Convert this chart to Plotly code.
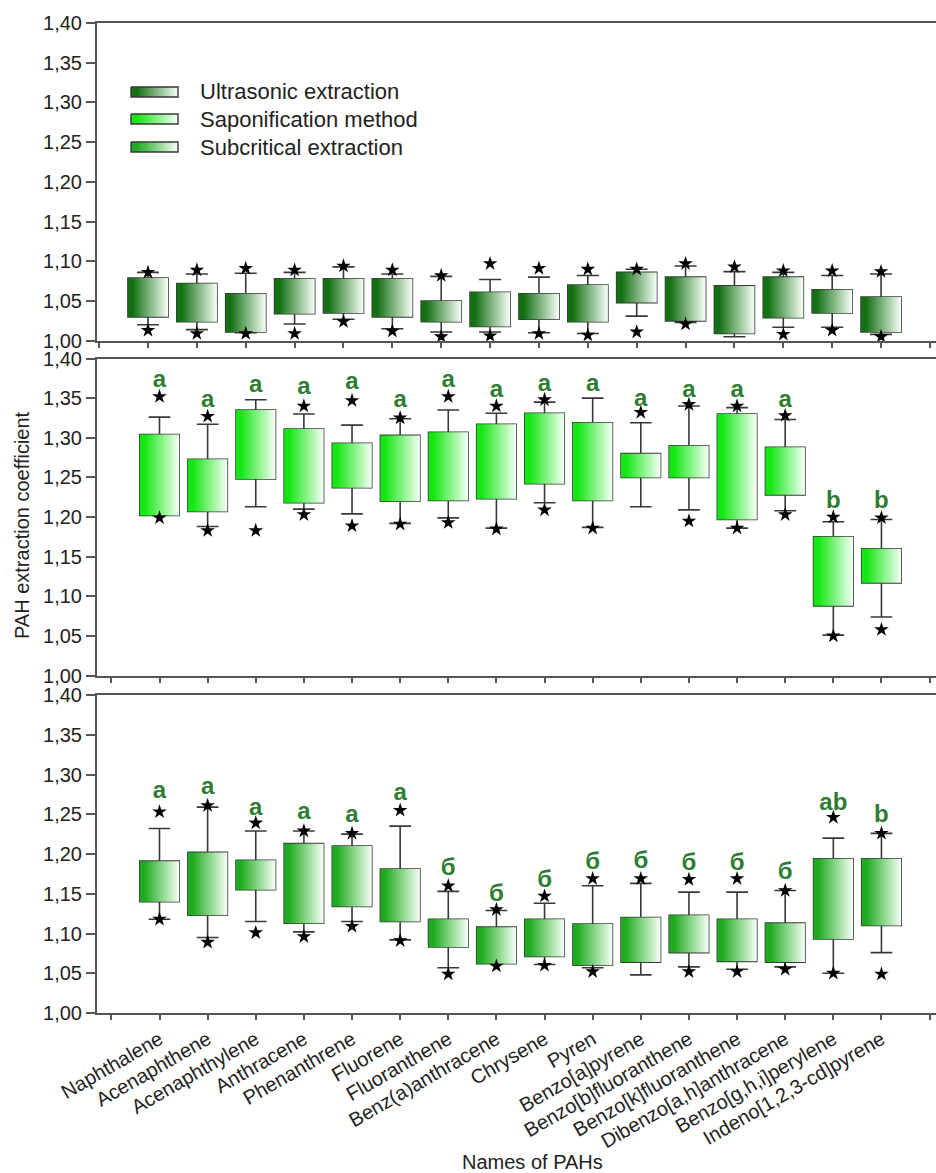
import plotly.graph_objects as go

# ---------------------------------------------------------------- data
names = ["Naphthalene", "Acenaphthene", "Acenaphthylene", "Anthracene",
         "Phenanthrene", "Fluorene", "Fluoranthene", "Benz(a)anthracene",
         "Chrysene", "Pyren", "Benzo[a]pyrene", "Benzo[b]fluoranthene",
         "Benzo[k]fluoranthene", "Dibenzo[a,h]anthracene",
         "Benzo[g,h,i]perylene", "Indeno[1,2,3-cd]pyrene"]

# Ultrasonic extraction
us_q1 = [1.030, 1.024, 1.011, 1.034, 1.035, 1.030, 1.024, 1.018, 1.027, 1.024, 1.048, 1.025, 1.009, 1.029, 1.035, 1.011]
us_med = [1.055, 1.050, 1.033, 1.053, 1.061, 1.061, 1.043, 1.037, 1.055, 1.041, 1.072, 1.077, 1.030, 1.056, 1.058, 1.025]
us_q3 = [1.079, 1.072, 1.059, 1.078, 1.078, 1.078, 1.050, 1.061, 1.059, 1.070, 1.086, 1.080, 1.069, 1.080, 1.064, 1.055]
us_lo = [1.020, 1.014, 1.010, 1.021, 1.027, 1.015, 1.011, 1.011, 1.010, 1.009, 1.031, 1.023, 1.005, 1.017, 1.017, 1.008]
us_hi = [1.086, 1.084, 1.085, 1.086, 1.093, 1.084, 1.081, 1.077, 1.080, 1.082, 1.090, 1.094, 1.087, 1.086, 1.082, 1.084]
us_out_hi = [1.086, 1.089, 1.091, 1.089, 1.094, 1.089, 1.082, 1.097, 1.091, 1.090, 1.090, 1.097, 1.093, 1.088, 1.088, 1.087]
us_out_lo = [1.013, 1.009, 1.009, 1.009, 1.024, 1.012, 1.005, 1.006, 1.009, 1.007, 1.011, 1.021, None, 1.008, 1.013, 1.005]

# Saponification method
sp_q1 = [1.202, 1.207, 1.248, 1.218, 1.237, 1.220, 1.221, 1.223, 1.242, 1.221, 1.250, 1.250, 1.197, 1.228, 1.088, 1.117]
sp_med = [1.240, 1.247, 1.311, 1.263, 1.258, 1.237, 1.277, 1.289, 1.286, 1.247, 1.270, 1.279, 1.234, 1.272, 1.136, 1.139]
sp_q3 = [1.304, 1.273, 1.335, 1.311, 1.293, 1.303, 1.307, 1.317, 1.331, 1.319, 1.280, 1.290, 1.330, 1.288, 1.175, 1.160]
sp_lo = [1.202, 1.188, 1.213, 1.210, 1.204, 1.192, 1.199, 1.186, 1.218, 1.187, 1.213, 1.209, 1.186, 1.208, 1.051, 1.074]
sp_hi = [1.326, 1.317, 1.348, 1.330, 1.316, 1.324, 1.335, 1.331, 1.345, 1.350, 1.319, 1.340, 1.338, 1.323, 1.194, 1.197]
sp_out_hi = [1.352, 1.327, None, 1.340, 1.347, 1.325, 1.352, 1.340, 1.348, None, 1.332, 1.342, 1.340, 1.328, 1.200, 1.199]
sp_out_lo = [1.199, 1.183, 1.183, 1.203, 1.189, 1.191, 1.193, 1.185, 1.209, 1.186, None, 1.195, 1.186, 1.203, 1.050, 1.058]
sp_groups = ["a"] * 14 + ["b", "b"]
sp_group_y = [1.371, 1.346, 1.365, 1.363, 1.369, 1.346, 1.371, 1.359, 1.367, 1.367, 1.348, 1.359, 1.359, 1.347, 1.219, 1.219]

# Subcritical extraction
sc_q1 = [1.140, 1.123, 1.155, 1.113, 1.134, 1.115, 1.083, 1.062, 1.071, 1.060, 1.064, 1.076, 1.065, 1.064, 1.093, 1.110]
sc_med = [1.173, 1.165, 1.175, 1.166, 1.172, 1.145, 1.097, 1.097, 1.089, 1.097, 1.097, 1.094, 1.096, 1.103, 1.145, 1.170]
sc_q3 = [1.191, 1.202, 1.192, 1.213, 1.210, 1.181, 1.118, 1.108, 1.118, 1.112, 1.120, 1.123, 1.118, 1.113, 1.194, 1.194]
sc_lo = [1.118, 1.095, 1.115, 1.102, 1.115, 1.092, 1.057, 1.062, 1.061, 1.057, 1.048, 1.058, 1.055, 1.058, 1.050, 1.076]
sc_hi = [1.232, 1.259, 1.229, 1.229, 1.225, 1.235, 1.153, 1.129, 1.138, 1.160, 1.163, 1.152, 1.152, 1.154, 1.220, 1.226]
sc_out_hi = [1.253, 1.261, 1.239, 1.229, 1.226, 1.255, 1.160, 1.130, 1.147, 1.169, 1.169, 1.168, 1.169, 1.154, 1.246, 1.226]
sc_out_lo = [1.118, 1.089, 1.101, 1.096, 1.109, 1.091, 1.049, 1.059, 1.060, 1.052, None, 1.052, 1.052, 1.055, 1.050, 1.049]
sc_groups = ["a"] * 6 + ["б"] * 8 + ["ab", "b"]
sc_group_y = [1.278, 1.283, 1.257, 1.252, 1.248, 1.275, 1.181, 1.148, 1.166, 1.189, 1.190, 1.188, 1.188, 1.176, 1.263, 1.248]

method_names = ["Ultrasonic extraction", "Saponification method", "Subcritical extraction"]
y_ticks = [1.00, 1.05, 1.10, 1.15, 1.20, 1.25, 1.30, 1.35, 1.40]

# ---------------------------------------------------------------- style
W, H = 936, 1173
FONT = "Liberation Sans, Arial, sans-serif"
TEXT = "#222222"
AXIS = "#555555"
EDGE = "#383838"
LETTER = "#2e7d32"
BOX_W = 0.82
shades = ["#137013", "#14e614", "#1fab1f"]   # left edge of each gradient
pos = list(range(1, len(names) + 1))

panels = [
    dict(q1=us_q1, med=us_med, q3=us_q3, lo=us_lo, hi=us_hi, ohi=us_out_hi, olo=us_out_lo,
         grp=None, gy=None, top=23, bot=340.7, first=148.0, step=48.87),
    dict(q1=sp_q1, med=sp_med, q3=sp_q3, lo=sp_lo, hi=sp_hi, ohi=sp_out_hi, olo=sp_out_lo,
         grp=sp_groups, gy=sp_group_y, top=358.5, bot=675.6, first=159.5, step=48.13),
    dict(q1=sc_q1, med=sc_med, q3=sc_q3, lo=sc_lo, hi=sc_hi, ohi=sc_out_hi, olo=sc_out_lo,
         grp=sc_groups, gy=sc_group_y, top=695.0, bot=1013.0, first=159.5, step=48.13),
]

left_px = 97.0
fig = go.Figure()
layout = dict(
    width=W, height=H, margin=dict(l=0, r=0, t=0, b=0, autoexpand=False),
    paper_bgcolor="white", plot_bgcolor="rgba(0,0,0,0)",
    showlegend=False, separators=", ",
    font=dict(family=FONT, size=20, color=TEXT),
)


def gradient(c):
    return [[0.0, c], [0.12, c], [1.0, "#f7fff7"]]


for k, p in enumerate(panels):
    sfx = "" if k == 0 else str(k + 1)
    xa, ya = "x" + sfx, "y" + sfx
    # gradient fills of the boxes
    for i, x in enumerate(pos):
        x0, x1 = x - BOX_W / 2, x + BOX_W / 2
        fig.add_trace(go.Scatter(
            x=[x0, x1, x1, x0, x0],
            y=[p["q1"][i], p["q1"][i], p["q3"][i], p["q3"][i], p["q1"][i]],
            mode="none", fill="toself",
            fillgradient=dict(type="horizontal", colorscale=gradient(shades[k])),
            hoverinfo="skip", xaxis=xa, yaxis=ya))
    # box outlines, medians and whiskers
    fig.add_trace(go.Box(
        x=pos, q1=p["q1"], median=p["med"], q3=p["q3"],
        lowerfence=p["lo"], upperfence=p["hi"],
        width=BOX_W, whiskerwidth=0.55, boxpoints=False,
        fillcolor="rgba(0,0,0,0)", line=dict(color=EDGE, width=1.6),
        hoverinfo="skip", xaxis=xa, yaxis=ya))
    # extreme values
    fig.add_trace(go.Scatter(
        x=pos + pos, y=p["ohi"] + p["olo"], mode="markers",
        marker=dict(symbol="star", size=11, color="black", line=dict(width=0)),
        hoverinfo="skip", xaxis=xa, yaxis=ya))
    # significance groups
    if p["grp"]:
        fig.add_trace(go.Scatter(
            x=pos, y=p["gy"], mode="text", text=p["grp"],
            textfont=dict(size=24, color=LETTER, family=FONT, weight="bold"),
            hoverinfo="skip", xaxis=xa, yaxis=ya))

    r0 = 1 - (p["first"] - left_px) / p["step"]
    r1 = 1 + (W - p["first"]) / p["step"]
    last = k == len(panels) - 1
    layout["xaxis" + sfx] = dict(
        domain=[left_px / W, 1.0], range=[r0, r1], anchor=ya, automargin=False,
        tickmode="array", tickvals=list(range(0, len(names) + 2)),
        ticktext=([""] + names + [""]) if last else [""] * (len(names) + 2),
        tickangle=-30 if last else 0, tickfont=dict(size=20, color=TEXT),
        ticks="outside", ticklen=5, tickwidth=1.5, tickcolor=AXIS,
        showline=True, linecolor=AXIS, linewidth=2, mirror=True,
        showgrid=False, zeroline=False, fixedrange=True)
    layout["yaxis" + sfx] = dict(
        domain=[1 - p["bot"] / H, 1 - p["top"] / H], range=[1.0, 1.4], anchor=xa,
        automargin=False,
        tickmode="array", tickvals=y_ticks, tickformat=".2f",
        tickfont=dict(size=20, color=TEXT),
        ticks="outside", ticklen=9, tickwidth=1.5, tickcolor=AXIS,
        showline=True, linecolor=AXIS, linewidth=2, mirror=False,
        showgrid=False, zeroline=False, fixedrange=True)

# overlay in page pixels for the key
layout["xaxis4"] = dict(domain=[0, 1], range=[0, W], anchor="y4", visible=False,
                        fixedrange=True, automargin=False)
layout["yaxis4"] = dict(domain=[0, 1], range=[H, 0], anchor="x4", visible=False,
                        fixedrange=True, automargin=False)
key_rows = [92, 119, 147]
annotations = []
for k, (name, yc) in enumerate(zip(method_names, key_rows)):
    fig.add_trace(go.Scatter(
        x=[131, 178, 178, 131, 131], y=[yc - 5, yc - 5, yc + 5, yc + 5, yc - 5],
        mode="lines", fill="toself", line=dict(color=EDGE, width=1.4),
        fillgradient=dict(type="horizontal", colorscale=gradient(shades[k])),
        hoverinfo="skip", xaxis="x4", yaxis="y4"))
    annotations.append(dict(
        x=198 / W, y=1 - yc / H, xref="paper", yref="paper", text=name,
        showarrow=False, xanchor="left", yanchor="middle",
        font=dict(size=22, color=TEXT, family=FONT)))

annotations.append(dict(
    x=22 / W, y=1 - 525 / H, xref="paper", yref="paper",
    text="PAH extraction coefficient", textangle=-90, showarrow=False,
    xanchor="center", yanchor="middle", font=dict(size=20, color=TEXT, family=FONT)))
annotations.append(dict(
    x=532 / W, y=1 - 1162 / H, xref="paper", yref="paper",
    text="Names of PAHs", showarrow=False,
    xanchor="center", yanchor="middle", font=dict(size=20, color=TEXT, family=FONT)))
layout["annotations"] = annotations

fig.update_layout(**layout)
fig.write_html("out.html")
